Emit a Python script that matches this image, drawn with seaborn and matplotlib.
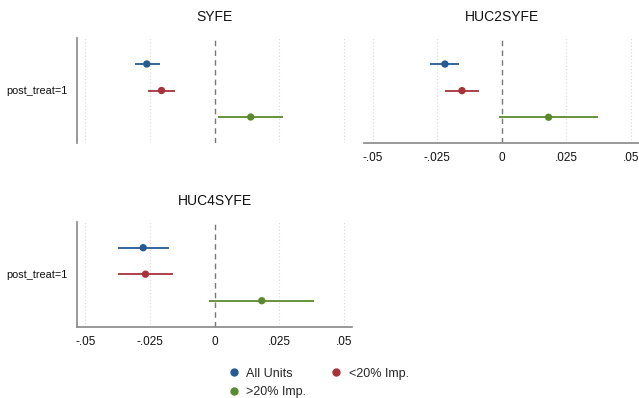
import numpy as np
import pandas as pd
import matplotlib
matplotlib.use("Agg")
import matplotlib.pyplot as plt
import seaborn as sns
from matplotlib.lines import Line2D

panels = ["SYFE", "HUC2SYFE", "HUC4SYFE"]
groups = ["All Units", "<20% Imp.", ">20% Imp."]
colors = ["#245b94", "#a8323a", "#5b8a2e"]
ytick_label = "post_treat=1"
xticks = [-0.05, -0.025, 0, 0.025, 0.05]
xtick_labels = ["-.05", "-.025", "0", ".025", ".05"]

est_syfe = [-0.0262, -0.0205, 0.0140]
lo_syfe = [-0.0309, -0.0259, 0.0015]
hi_syfe = [-0.0212, -0.0151, 0.0264]

est_huc2 = [-0.0220, -0.0154, 0.0181]
lo_huc2 = [-0.0278, -0.0219, -0.0010]
hi_huc2 = [-0.0165, -0.0090, 0.0373]

est_huc4 = [-0.0276, -0.0267, 0.0183]
lo_huc4 = [-0.0375, -0.0374, -0.0020]
hi_huc4 = [-0.0177, -0.0160, 0.0386]

rows = []
for p, e, l, h in zip(panels, [est_syfe, est_huc2, est_huc4],
                      [lo_syfe, lo_huc2, lo_huc4], [hi_syfe, hi_huc2, hi_huc4]):
    for i, g in enumerate(groups):
        rows.append(dict(panel=p, group=g, pos=i + 1, est=e[i], lo=l[i], hi=h[i]))
df = pd.DataFrame(rows)

sns.set_theme(style="white")
plt.rcParams['font.family'] = ['Liberation Sans', 'DejaVu Sans']

fig = plt.figure(figsize=(6.39, 3.98), dpi=100)
W, H = 639, 398
def axrect(l, t, r, b):
    return [l / W, 1 - b / H, (r - l) / W, (b - t) / H]

rects = {
    "SYFE": axrect(77, 38, 352, 143),
    "HUC2SYFE": axrect(364.3, 38, 639.3, 143.3),
    "HUC4SYFE": axrect(77, 221.7, 352, 326.7),
}
pal = dict(zip(groups, colors))
axis_gray = "#8c8c8c"

for p in panels:
    ax = fig.add_axes(rects[p])
    sub = df[df.panel == p]
    for x in [-0.05, -0.025, 0.025, 0.05]:
        ax.axvline(x, color="#d9d9d9", lw=0.8, ls=(0, (1, 2)), zorder=0)
    ax.axvline(0, color="#777777", lw=1.0, ls=(0, (4, 3)), zorder=1)
    for _, r in sub.iterrows():
        ax.hlines(r.pos, r.lo, r.hi, color=pal[r.group], lw=1.3, zorder=2)
    sns.scatterplot(data=sub, x="est", y="pos", hue="group", palette=pal,
                    s=28, edgecolor="none", legend=False, ax=ax, zorder=3)
    ax.set_xlim(-0.0532, 0.0532)
    ax.set_ylim(3.98, 0.02)
    ax.set_xlabel("")
    ax.set_ylabel("")
    ax.set_title(p, fontsize=10, pad=12, color="#111111")
    for s in ["top", "right"]:
        ax.spines[s].set_visible(False)
    ax.tick_params(axis="both", colors=axis_gray, labelcolor="#111111",
                   length=5, width=0.8, pad=2)
    ax.tick_params(axis="x", labelsize=8.5, pad=1.5)
    ax.tick_params(axis="y", labelsize=7.8)
    if p == "HUC2SYFE":
        ax.spines["left"].set_visible(False)
        ax.set_yticks([])
    else:
        ax.spines["left"].set_color(axis_gray)
        ax.set_yticks([2])
        ax.set_yticklabels([ytick_label])
    if p == "SYFE":
        ax.spines["bottom"].set_visible(False)
        ax.set_xticks([])
    else:
        ax.spines["bottom"].set_color(axis_gray)
        ax.set_xticks(xticks)
        ax.set_xticklabels(xtick_labels)

order = [0, 2, 1]
handles = [Line2D([], [], marker="o", ls="", color=colors[i], markersize=5) for i in order]
labels = [groups[i] for i in order]
fig.legend(handles, labels, loc="center", bbox_to_anchor=(318 / W, 1 - 383 / H),
           ncol=2, frameon=False, fontsize=9, handletextpad=0.5,
           columnspacing=1.9, labelspacing=0.55, handlelength=1.0)

fig.savefig("out.png", dpi=100)
